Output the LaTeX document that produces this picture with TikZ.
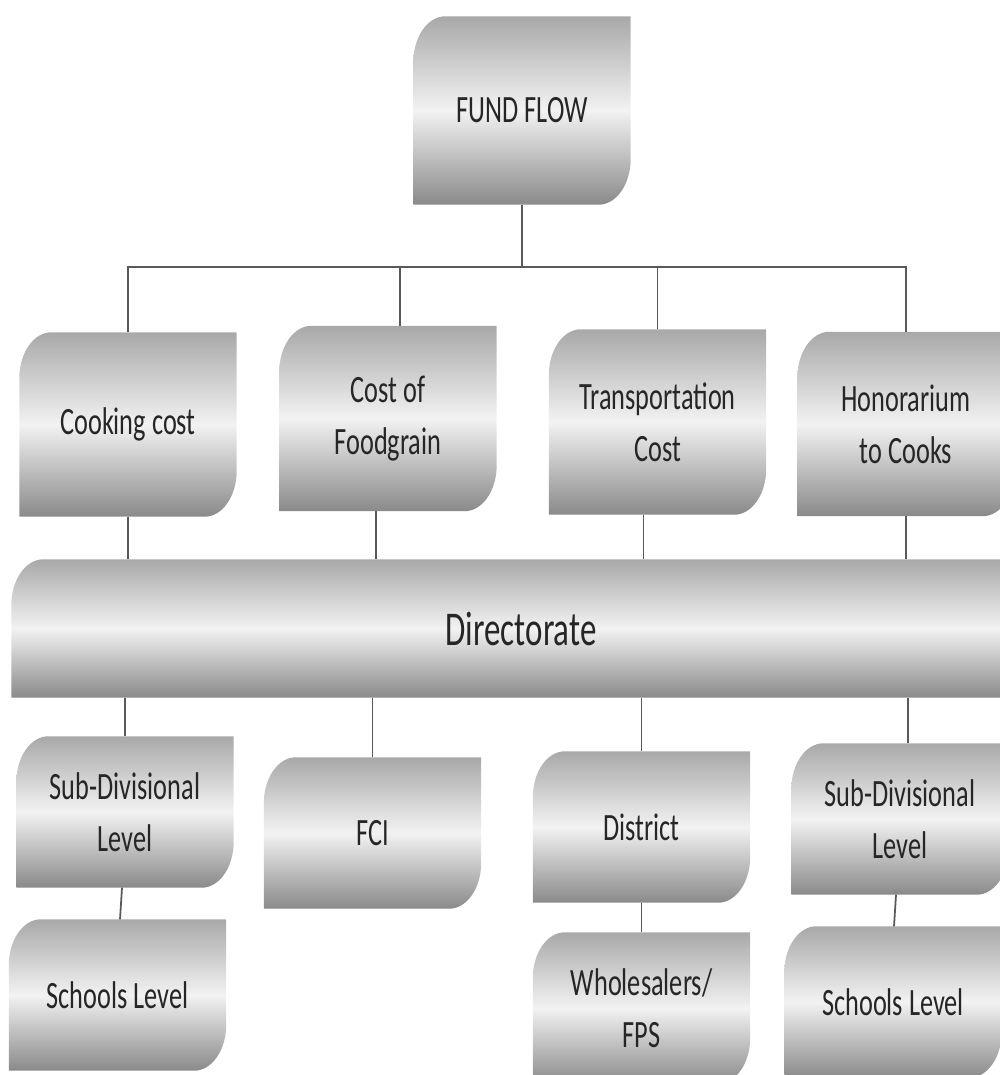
\documentclass[tikz,border=0pt]{standalone}
\usepackage{fontspec}
\setmainfont{Carlito}[FakeStretch=0.68]
\usetikzlibrary{backgrounds}

\tikzset{
  flowbox/.style={minimum width=2.16cm, minimum height=1.84cm, inner sep=0pt,
    align=center, text=black!85, font=\fontsize{11}{14.8}\selectfont},
  lowbox/.style={flowbox, minimum height=1.5cm},
  boxshade/.style={top color=black!34, bottom color=black!46, middle color=black!5},
  link/.style={draw=black!65, line width=0.5pt}
}

\begin{document}
\begin{tikzpicture}
    \useasboundingbox (0,0) rectangle (10,-10.75);
    % top level
    \node [flowbox,minimum height=1.87cm] (fund) at (5.22,-1.105) {FUND FLOW};
    % heads of expenditure
    \node [flowbox,minimum height=1.83cm] (cook) at (1.28,-4.245) {Cooking cost};
    \node [flowbox] (grain) at (3.88,-4.185) {Cost of\\Foodgrain};
    \node [flowbox] (trans) at (6.575,-4.22) {Transportation\\Cost};
    \node [flowbox,minimum height=1.83cm] (hono) at (9.06,-4.24) {Honorarium\\to Cooks};
    \node [flowbox,minimum width=10.18cm,minimum height=1.37cm,font=\fontsize{13.8}{16}\selectfont] (dir) at (5.21,-6.285) {Directorate};
    % receivers
    \node [lowbox] (subdiv1) at (1.25,-8.12) {Sub-Divisional\\Level};
    \node [lowbox] (fci) at (3.725,-8.33) {FCI};
    \node [lowbox] (district) at (6.415,-8.27) {District};
    \node [lowbox] (subdiv2) at (9.0,-8.19) {Sub-Divisional\\Level};
    \node [lowbox] (school1) at (1.175,-9.95) {Schools Level};
    \node [lowbox] (whole) at (6.415,-10.08) {Wholesalers/\\FPS};
    \node [lowbox] (school2) at (8.93,-10.02) {Schools Level};
    % shaded box outlines
    \begin{scope}[on background layer]
      \foreach \n in {fund,cook,grain,trans,hono,dir,subdiv1,fci,district,subdiv2,school1,whole,school2}
        \shade [boxshade] (\n.south west) -- ([yshift=-4.6mm]\n.north west)
          arc [start angle=180,end angle=90,x radius=3.2mm,y radius=4.6mm]
          -- (\n.north east) -- ([yshift=4.6mm]\n.south east)
          arc [start angle=0,end angle=-90,x radius=3.2mm,y radius=4.6mm] -- cycle;
    \end{scope}
    % connectors
    \coordinate (bus) at (5.24,-2.67);
    \draw [link] (fund.south) -- (fund.south |- bus);
    \draw [link] (cook.north) |- (hono.north |- bus) -- (hono.north);
    \draw [link] ([xshift=1.2mm]grain.north) -- ([xshift=1.2mm]grain.north |- bus);
    \draw [link] (trans.north) -- (trans.north |- bus);
    \draw [link] (cook.south) -- (cook.south |- dir.north);
    \draw [link] ([xshift=-1.2mm]grain.south) -- ([xshift=-1.2mm]grain.south |- dir.north);
    \draw [link] ([xshift=-1.4mm]trans.south) -- ([xshift=-1.4mm]trans.south |- dir.north);
    \draw [link] (hono.south) -- (hono.south |- dir.north);
    \foreach \n in {subdiv1,fci,district}
      \draw [link] (\n.north) -- (\n.north |- dir.south);
    \draw [link] ([xshift=0.8mm]subdiv2.north) -- ([xshift=0.8mm]subdiv2.north |- dir.south);
    \draw [link] ([xshift=-0.3mm]subdiv1.south) -- ([xshift=0.25mm]school1.north);
    \draw [link] (district.south) -- (whole.north);
    \draw [link] ([xshift=-0.4mm]subdiv2.south) -- ([xshift=0.1mm]school2.north);
\end{tikzpicture}
\end{document}
